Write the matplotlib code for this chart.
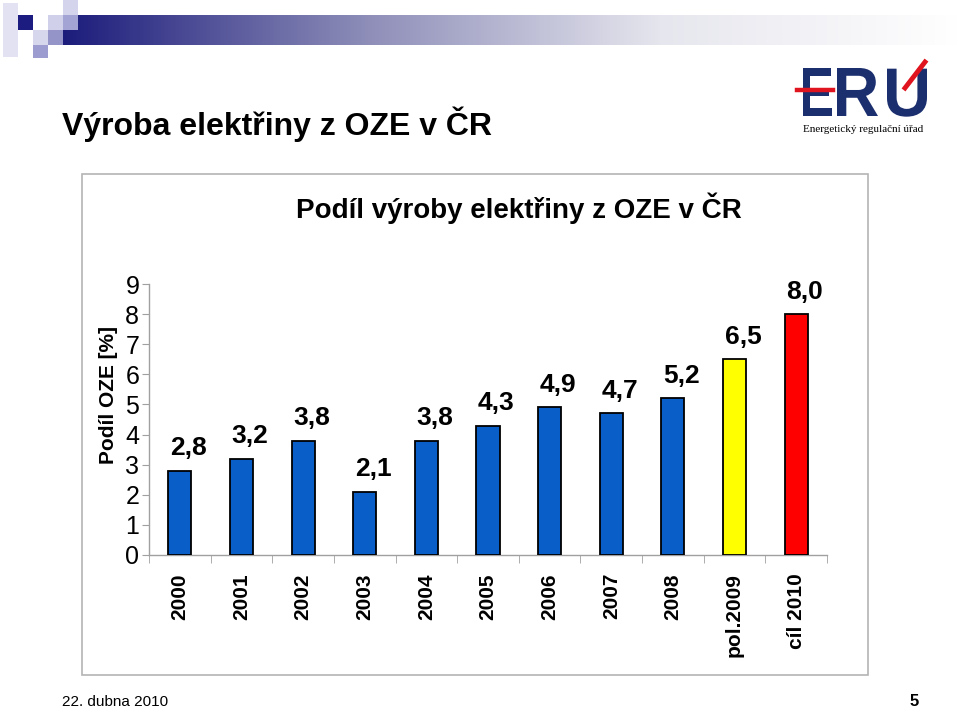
import matplotlib
matplotlib.use('Agg')
import matplotlib.pyplot as plt
import numpy as np
from matplotlib.patches import Rectangle, PathPatch
from matplotlib.lines import Line2D
from matplotlib.colors import LinearSegmentedColormap
from matplotlib.textpath import TextPath
from matplotlib.font_manager import FontProperties
from matplotlib.transforms import Affine2D

# ---------------- data ----------------
categories = ['2000', '2001', '2002', '2003', '2004', '2005', '2006', '2007',
              '2008', 'pol.2009', 'cíl 2010']
values = [2.8, 3.2, 3.8, 2.1, 3.8, 4.3, 4.9, 4.7, 5.2, 6.5, 8.0]
value_labels = ['2,8', '3,2', '3,8', '2,1', '3,8', '4,3', '4,9', '4,7', '5,2', '6,5', '8,0']
bar_colors = ['#0a5ec8'] * 9 + ['#ffff00', '#ff0000']
y_ticks = list(range(0, 10))

chart_title = 'Podíl výroby elektřiny z OZE v ČR'
slide_title = 'Výroba elektřiny z OZE v ČR'
y_label = 'Podíl OZE [%]'
footer_date = '22. dubna 2010'
page_no = '5'

plt.rcParams['font.family'] = ['Liberation Sans', 'DejaVu Sans']

W, H = 960, 708
fig = plt.figure(figsize=(9.6, 7.08), dpi=100)
fig.patch.set_facecolor('white')


def fx(px):
    return px / W


def fy(py):
    return 1 - py / H


def rect(x0, y0, x1, y1, color, z=2):
    fig.patches.append(Rectangle((fx(x0), fy(y1)), fx(x1) - fx(x0), fy(y0) - fy(y1),
                                 transform=fig.transFigure, facecolor=color,
                                 edgecolor='none', zorder=z))


# ---------------- header decoration ----------------
gax = fig.add_axes([fx(63), fy(45), 1 - fx(63), fy(15) - fy(45)])
cmap = LinearSegmentedColormap.from_list('hdr', ['#1c1c7c', '#8c8cb8', '#e6e6ee', '#ffffff'],
                                         N=256)
gax.imshow(np.linspace(0, 1, 512)[None, :], aspect='auto', cmap=cmap)
gax.axis('off')

rect(3, 3, 18, 57, '#e2e2f2')
rect(18, 15, 33, 30, '#1c1c80')
rect(33, 30, 48, 45, '#d6d6ec')
rect(33, 45, 48, 58, '#9c9cd0')
rect(48, 15, 63, 30, '#d0d0ea')
rect(48, 30, 63, 45, '#9494c8')
rect(63, 0, 78, 15, '#d4d4ec')
rect(63, 15, 78, 30, '#a4a4d4', z=5)

# ---------------- slide title ----------------
fig.text(fx(62), fy(135), slide_title, fontsize=23, fontweight='bold', va='baseline')

# ---------------- logo ----------------
px_to_fig = Affine2D().scale(1 / W, 1 / H) + fig.transFigure
logo_fp = FontProperties(family='Liberation Sans', weight='bold')
for letter, left, right in [('E', 803, 832), ('R', 837, 878), ('U', 887, 927)]:
    tp = TextPath((0, 0), letter, size=1, prop=logo_fp)
    ext = tp.get_extents()
    sx = (right - left) / ext.width
    sy = 48 / ext.height
    tr = Affine2D().translate(-ext.x0, 0).scale(sx, sy).translate(left, H - 116)
    fig.patches.append(PathPatch(tr.transform_path(tp), transform=px_to_fig,
                                 facecolor='#1b2e6e', edgecolor='none'))
fig.lines.append(Line2D([fx(797), fx(833)], [fy(90), fy(90)], transform=fig.transFigure,
                        color='#e0141e', lw=3.2, zorder=5))
fig.lines.append(Line2D([fx(905), fx(925)], [fy(88), fy(62)], transform=fig.transFigure,
                        color='#e0141e', lw=3.5, zorder=5))
fig.text(fx(803), fy(132), 'Energetický regulační úřad', family=['Liberation Serif'],
         fontsize=8, va='baseline', ha='left')

# ---------------- chart frame ----------------
fig.patches.append(Rectangle((fx(82), fy(675)), fx(868) - fx(82), fy(174) - fy(675),
                             transform=fig.transFigure, fill=False,
                             edgecolor='#b4b4b4', lw=1.2))

fig.text(fx(519), fy(218), chart_title, ha='center', va='baseline',
         fontsize=20, fontweight='bold')

# ---------------- chart ----------------
ax = fig.add_axes([fx(149), fy(555), fx(827) - fx(149), fy(284) - fy(555)])
x = np.arange(len(categories))
ax.bar(x, values, width=0.375, color=bar_colors, edgecolor='black', linewidth=1.3, zorder=3)

for xi, v, lbl in zip(x, values, value_labels):
    ax.annotate(lbl, (xi, v), xytext=(6, 11), textcoords='offset points',
                ha='center', va='baseline', fontsize=19, fontweight='bold')

ax.set_xlim(-0.5, len(categories) - 0.5)
ax.set_ylim(0, 9)
ax.set_yticks(y_ticks)
ax.set_yticklabels([str(t) for t in y_ticks])
ax.tick_params(axis='y', length=5, color='#a0a0a0', labelsize=18, pad=2)

ax.set_xticks(x)
ax.set_xticklabels(categories, rotation=90, fontsize=15, fontweight='bold')
ax.set_xticks(np.arange(-0.5, len(categories), 1), minor=True)
ax.tick_params(axis='x', which='major', length=0, pad=13)
ax.tick_params(axis='x', which='minor', length=6, color='#a0a0a0')

for s in ['top', 'right']:
    ax.spines[s].set_visible(False)
for s in ['left', 'bottom']:
    ax.spines[s].set_color('#a0a0a0')
    ax.spines[s].set_linewidth(1)

ax.set_ylabel(y_label, fontsize=15, fontweight='bold')
ax.yaxis.set_label_coords(-0.045, 0.59)

# ---------------- footer ----------------
fig.text(fx(62), fy(706), footer_date, fontsize=11, va='baseline')
fig.text(fx(919), fy(706), page_no, fontsize=12, fontweight='bold', va='baseline', ha='right')

fig.savefig('out.png', dpi=100)
